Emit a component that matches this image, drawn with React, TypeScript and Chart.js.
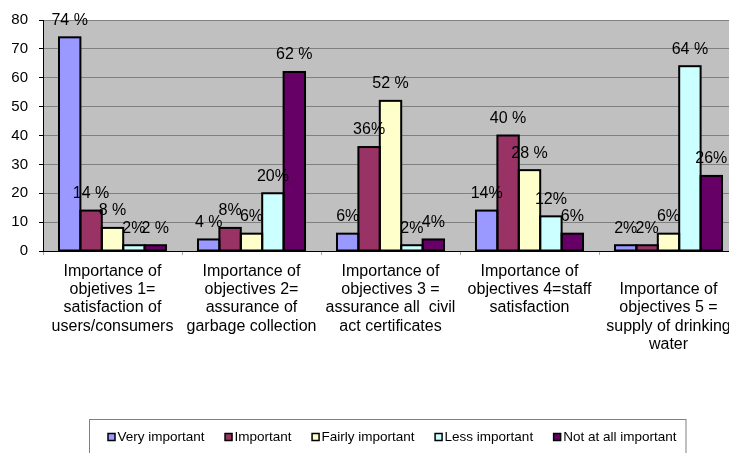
import React, { useEffect, useRef } from "react";
import { Chart, registerables } from "chart.js";

Chart.register(...registerables);

// Survey: importance of municipal objectives (% of respondents)
const categories: string[][] = [
  ["Importance of", "objetives 1=", "satisfaction of", "users/consumers"],
  ["Importance of", "objectives 2=", "assurance of", "garbage collection"],
  ["Importance of", "objectives 3 =", "assurance all  civil", "act certificates"],
  ["Importance of", "objectives 4=staff", "satisfaction"],
  ["", "Importance of", "objectives 5 =", "supply of drinking", "water"],
];

const seriesNames = [
  "Very important",
  "Important",
  "Fairly important",
  "Less important",
  "Not at all important",
];

const veryImportant = [74, 4, 6, 14, 2];
const important = [14, 8, 36, 40, 2];
const fairlyImportant = [8, 6, 52, 28, 6];
const lessImportant = [2, 20, 2, 12, 64];
const notAtAllImportant = [2, 62, 4, 6, 26];

// whether each value label is written as "74 %" (true) or "6%" (false)
const veryImportantSpaced = [true, true, false, false, false];
const importantSpaced = [true, false, false, true, false];
const fairlyImportantSpaced = [true, false, true, true, false];
const lessImportantSpaced = [false, false, false, false, true];
const notAtAllImportantSpaced = [true, true, false, false, false];

const yMin = 0;
const yMax = 80;
const yStep = 10;

const seriesColors = ["#9999FF", "#993366", "#FFFFCC", "#CCFFFF", "#660066"];

const seriesValues = [veryImportant, important, fairlyImportant, lessImportant, notAtAllImportant];
const seriesSpaced = [
  veryImportantSpaced,
  importantSpaced,
  fairlyImportantSpaced,
  lessImportantSpaced,
  notAtAllImportantSpaced,
];

const FONT = "'Liberation Sans', Arial, sans-serif";

const plotBackground = {
  id: "plotBackground",
  beforeDraw(chart: any) {
    const { ctx, chartArea } = chart;
    ctx.save();
    ctx.fillStyle = "#C0C0C0";
    ctx.fillRect(chartArea.left, chartArea.top, chartArea.right - chartArea.left, chartArea.bottom - chartArea.top);
    ctx.restore();
  },
};

// black outline centred on each bar's edges, so neighbouring bars share one line
const barOutline = {
  id: "barOutline",
  afterDatasetsDraw(chart: any) {
    const { ctx } = chart;
    ctx.save();
    ctx.strokeStyle = "#000";
    ctx.lineWidth = 2;
    chart.data.datasets.forEach((_ds: any, di: number) => {
      const meta = chart.getDatasetMeta(di);
      meta.data.forEach((bar: any) => {
        const { x, y, base, width } = bar.getProps(["x", "y", "base", "width"], true);
        ctx.strokeRect(x - width / 2, y, width, base - y);
      });
    });
    ctx.restore();
  },
};

const barLabels = {
  id: "barLabels",
  afterDatasetsDraw(chart: any) {
    const { ctx } = chart;
    ctx.save();
    ctx.font = `16px ${FONT}`;
    ctx.fillStyle = "#000";
    ctx.textAlign = "center";
    ctx.textBaseline = "middle";
    chart.data.datasets.forEach((ds: any, di: number) => {
      const meta = chart.getDatasetMeta(di);
      meta.data.forEach((bar: any, i: number) => {
        const v = ds.data[i];
        const text = `${v}${seriesSpaced[di][i] ? " %" : "%"}`;
        ctx.fillText(text, bar.x, bar.y - 17);
      });
    });
    ctx.restore();
  },
};

const boxedLegend = {
  id: "boxedLegend",
  afterDraw(chart: any) {
    const { ctx } = chart;
    ctx.save();
    ctx.strokeStyle = "#808080";
    ctx.lineWidth = 1;
    ctx.strokeRect(89.5, 419.5, 596.5, 60);
    ctx.font = `13.5px ${FONT}`;
    ctx.textBaseline = "middle";
    const cy = 437;
    let x = 108;
    chart.data.datasets.forEach((ds: any) => {
      ctx.fillStyle = ds.backgroundColor;
      ctx.fillRect(x, cy - 3.5, 7, 7);
      ctx.strokeStyle = "#000";
      ctx.lineWidth = 1.5;
      ctx.strokeRect(x, cy - 3.5, 7, 7);
      ctx.fillStyle = "#000";
      ctx.fillText(ds.label, x + 9.5, cy + 0.5);
      x += 9.5 + ctx.measureText(ds.label).width + 20.5;
    });
    ctx.restore();
  },
};

export default function App() {
  const canvasRef = useRef<HTMLCanvasElement | null>(null);

  useEffect(() => {
    if (!canvasRef.current) return;
    const chart = new Chart(canvasRef.current, {
      type: "bar",
      data: {
        labels: categories,
        datasets: seriesNames.map((name, i) => ({
          label: name,
          data: seriesValues[i],
          backgroundColor: seriesColors[i],
          borderWidth: 0,
          barPercentage: 1,
          categoryPercentage: 0.77,
        })),
      },
      options: {
        responsive: false,
        animation: false,
        devicePixelRatio: 1,
        layout: { padding: { top: 13, left: 0, right: 0, bottom: 0 } },
        plugins: {
          legend: { display: false },
          tooltip: { enabled: false },
        },
        scales: {
          x: {
            grid: {
              offset: true,
              drawOnChartArea: false,
              drawTicks: true,
              tickLength: 4,
              color: "#A8A8A8",
            },
            border: { color: "#000", width: 1 },
            ticks: {
              autoSkip: false,
              maxRotation: 0,
              minRotation: 0,
              padding: 7,
              color: "#000",
              font: { family: FONT, size: 16, lineHeight: 1.15 },
            },
            afterFit(scale: any) {
              scale.height = 202;
            },
          },
          y: {
            min: yMin,
            max: yMax,
            ticks: {
              stepSize: yStep,
              padding: 11,
              color: "#000",
              font: { family: FONT, size: 15 },
            },
            grid: {
              color: "#808080",
              tickColor: "#000",
              tickLength: 4,
              drawTicks: true,
            },
            border: { color: "#000", width: 1 },
            afterFit(scale: any) {
              scale.width = 43;
            },
          },
        },
      },
      plugins: [plotBackground, barOutline, barLabels, boxedLegend],
    });
    return () => chart.destroy();
  }, []);

  return (
    <div
      style={{
        position: "fixed",
        left: 0,
        top: 0,
        width: 729,
        height: 453,
        overflow: "hidden",
        background: "#fff",
      }}
    >
      <canvas ref={canvasRef} width={738} height={453} style={{ display: "block" }} />
    </div>
  );
}
